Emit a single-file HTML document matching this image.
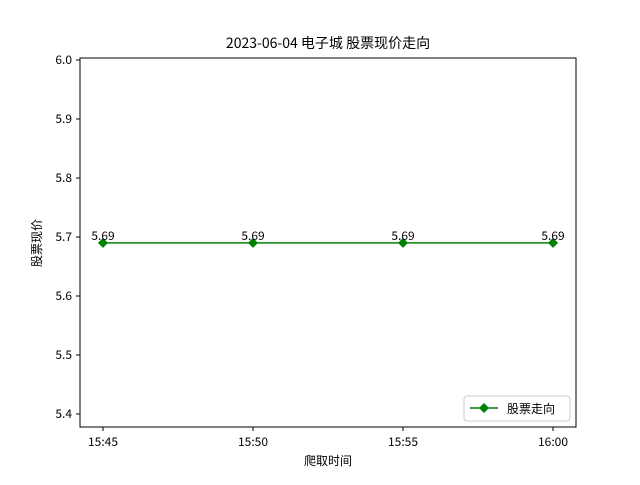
<!DOCTYPE html>
<html><head><meta charset="utf-8"><style>
body{margin:0;background:#fff}
svg text{font-family:"WenQuanYi Zen Hei","Noto Sans CJK SC",sans-serif;fill:#000}
</style></head><body>
<svg id="c" width="640" height="480" viewBox="0 0 640 480">
<rect width="640" height="480" fill="#fff"/>
<text x="328" y="48" font-size="14" text-anchor="middle">2023-06-04 电子城 股票现价走向</text>
<g id="plot"></g>
<rect x="80" y="58" width="496" height="369" fill="none" stroke="#000" stroke-width="1"/>
<text x="328" y="465" font-size="12" text-anchor="middle">爬取时间</text>
<text transform="translate(41,243) rotate(-90)" font-size="12" text-anchor="middle">股票现价</text>
<g>
<rect x="464" y="396" width="106" height="25" rx="3" fill="#fff" stroke="#ccc"/>
<line x1="470" y1="408" x2="498" y2="408" stroke="green" stroke-width="1.5"/>
<path d="M484 403 L489 408 L484 413 L479 408Z" fill="green"/>
<text x="507" y="413" font-size="12">股票走向</text>
</g>
</svg>
<script>
const categories=["15:45","15:50","15:55","16:00"];
const values=[5.69,5.69,5.69,5.69];
const yTicks=[5.4,5.5,5.6,5.7,5.8,5.9,6.0];
const ns="http://www.w3.org/2000/svg";
const g=document.getElementById('plot');
const xs=i=>103+i*(450/(categories.length-1));
const ys=v=>414-(v-5.4)*590;
function mk(t,a,txt){const e=document.createElementNS(ns,t);for(const k in a)e.setAttribute(k,a[k]);if(txt!==undefined)e.textContent=txt;g.appendChild(e);return e;}
yTicks.forEach(v=>{
 const y=ys(v);
 let l=mk('line',{x1:76,x2:80,y1:y,y2:y,stroke:'#000'});
 
 
 let t=mk('text',{x:72,y:y+4,'font-size':12,'text-anchor':'end'},v.toFixed(1));
 
 
});
categories.forEach((c,i)=>{
 const x=xs(i);
 let l=mk('line',{x1:x,x2:x,y1:427,y2:431,stroke:'#000'});
 
 
 let t=mk('text',{x:x,y:446,'font-size':12,'text-anchor':'middle'},c);
 
 
});
let p=mk('polyline',{points:values.map((v,i)=>xs(i)+','+ys(v)).join(' '),fill:'none',stroke:'green','stroke-width':1.5});


values.forEach((v,i)=>{
 const x=xs(i),y=ys(v);
 let m=mk('path',{d:`M${x} ${y-5}L${x+5} ${y}L${x} ${y+5}L${x-5} ${y}Z`,fill:'green'});
 
 
 let t=mk('text',{x:x,y:y-3,'font-size':12,'text-anchor':'middle'},v.toFixed(2));
 
 
});
</script>
</body></html>
